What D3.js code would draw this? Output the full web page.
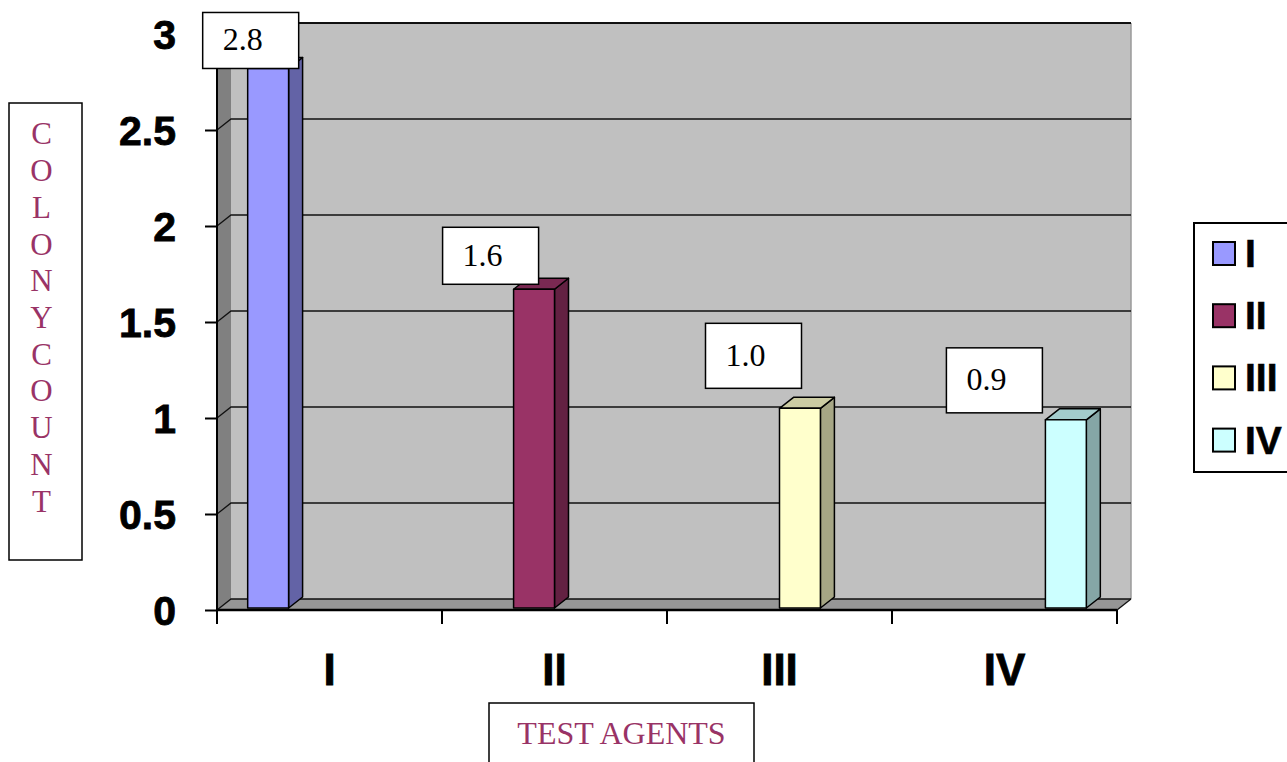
<!DOCTYPE html>
<html>
<head>
<meta charset="utf-8">
<script src="https://cdn.jsdelivr.net/npm/d3@7"></script>
<style>
  html, body { margin: 0; padding: 0; background: #fff; }
  svg { display: block; }
</style>
</head>
<body>
<svg id="chart" width="1287" height="762"></svg>
<script>
// ---- data ----
const categories = ["I", "II", "III", "IV"];
const seriesNames = ["I", "II", "III", "IV"];
const values = [2.81, 1.66, 1.04, 0.98];
const valueLabels = ["2.8", "1.6", "1.0", "0.9"];
const yTicks = [0, 0.5, 1, 1.5, 2, 2.5, 3];
const yTickLabels = ["0", "0.5", "1", "1.5", "2", "2.5", "3"];
const seriesColors = ["#9999ff", "#993366", "#ffffcc", "#ccffff"];
const yTitle = "COLONYCOUNT";
const xTitle = "TEST AGENTS";

// ---- layout ----
const svg = d3.select("#chart");
const DX = 14, DY = -11;           // 3D depth offset
const x = d3.scaleBand().domain(categories).range([217, 1117]);
const xs = d3.scaleBand().domain(seriesNames).range([0, x.bandwidth()])
  .paddingInner(0).paddingOuter(0.75);
const y = d3.scaleLinear().domain([0, 3]).range([610, 34]);
const x0 = x.range()[0], x1 = x.range()[1];
const yMin = y(0), yMax = y(3);

function shade(c, k) {
  const r = d3.rgb(c);
  return d3.rgb(r.r * k, r.g * k, r.b * k).formatHex();
}
const pts = a => a.map(p => p.join(",")).join(" ");
const boldFont = "'Liberation Sans', Arial, sans-serif";
const serifFont = "'Liberation Serif', 'Times New Roman', serif";

// back wall
svg.append("polygon")
  .attr("points", pts([[x0 + DX, yMax + DY], [x1 + DX, yMax + DY], [x1 + DX, yMin + DY], [x0 + DX, yMin + DY]]))
  .attr("fill", "#c0c0c0").attr("stroke", "none");
// right edge of back wall
svg.append("line").attr("x1", x1 + DX).attr("x2", x1 + DX).attr("y1", yMax + DY).attr("y2", yMin + DY)
  .attr("stroke", "#9a9a9a").attr("stroke-width", 1.5);
// left wall
svg.append("polygon")
  .attr("points", pts([[x0, yMax], [x0 + DX, yMax + DY], [x0 + DX, yMin + DY], [x0, yMin]]))
  .attr("fill", "#808080");
// floor
svg.append("polygon")
  .attr("points", pts([[x0, yMin], [x0 + DX, yMin + DY], [x1 + DX, yMin + DY], [x1, yMin]]))
  .attr("fill", "#969696");

// gridlines (left wall diagonal + back wall horizontal)
const grid = svg.append("g").attr("stroke", "#111").attr("stroke-width", 1.3).attr("fill", "none");
yTicks.forEach(v => {
  grid.append("polyline")
    .attr("points", pts([[x0, y(v)], [x0 + DX, y(v) + DY], [x1 + DX, y(v) + DY]]));
});
// floor right edge
grid.append("line").attr("x1", x1).attr("y1", yMin).attr("x2", x1 + DX).attr("y2", yMin + DY);

// bars
const bars = svg.append("g").attr("stroke", "#000").attr("stroke-width", 1.5).attr("stroke-linejoin", "round");
const barData = seriesNames.map((s, i) => ({ s, cat: categories[i], v: values[i], c: seriesColors[i], label: valueLabels[i] }));
const FY = -2; // bar front slightly behind the floor front edge
barData.forEach(d => {
  const bx = x(d.cat) + xs(d.s), bw = xs.bandwidth();
  const yt = y(d.v) + FY, yb = y(0) + FY;
  d.bx = bx; d.yt = yt;
  bars.append("polygon")
    .attr("points", pts([[bx + bw, yt], [bx + bw + DX, yt + DY], [bx + bw + DX, yb + DY], [bx + bw, yb]]))
    .attr("fill", shade(d.c, 0.65));
  bars.append("polygon")
    .attr("points", pts([[bx, yt], [bx + DX, yt + DY], [bx + bw + DX, yt + DY], [bx + bw, yt]]))
    .attr("fill", shade(d.c, 0.8));
  bars.append("rect").attr("x", bx).attr("y", yt).attr("width", bw).attr("height", yb - yt)
    .attr("fill", d.c);
});

// y axis
const yAxis = svg.append("g").attr("transform", `translate(${x0},0)`)
  .call(d3.axisLeft(y).tickValues(yTicks).tickSize(12).tickPadding(29)
    .tickFormat((d, i) => yTickLabels[i]));
yAxis.select(".domain").attr("stroke", "#000").attr("stroke-width", 2).attr("d", `M0,${yMax}V${yMin}`);
yAxis.selectAll(".tick line").attr("stroke", "#000").attr("stroke-width", 2);
yAxis.selectAll(".tick text")
  .attr("font-family", boldFont).attr("font-weight", "bold").attr("font-size", 41)
  .attr("fill", "#000").attr("stroke", "#000").attr("stroke-width", 0.8).attr("dy", "0.36em");

// x axis (labels at centers, ticks at band boundaries)
const xAxis = svg.append("g").attr("transform", `translate(0,${yMin})`)
  .call(d3.axisBottom(x).tickSize(0).tickPadding(44));
xAxis.select(".domain").remove();
xAxis.selectAll(".tick text")
  .attr("font-family", boldFont).attr("font-weight", "bold").attr("font-size", 44)
  .attr("fill", "#000").attr("stroke", "#000").attr("stroke-width", 0.8);
svg.append("line").attr("x1", x0).attr("x2", x1).attr("y1", yMin).attr("y2", yMin)
  .attr("stroke", "#000").attr("stroke-width", 2.5);
const bounds = categories.map(c => x(c)).concat([x1]);
svg.append("g").selectAll("line").data(bounds).join("line")
  .attr("x1", d => d).attr("x2", d => d).attr("y1", yMin).attr("y2", yMin + 14)
  .attr("stroke", "#000").attr("stroke-width", 2);

// top edges of the walls
svg.append("polyline")
  .attr("points", pts([[x0, yMax], [x0 + DX, yMax + DY], [x1 + DX, yMax + DY]]))
  .attr("fill", "none").attr("stroke", "#000").attr("stroke-width", 1.5);

// value label boxes (hand-placed offsets from each bar's top-left corner)
const labelOffsets = [[-45, -56, 56], [-71, -62, 57], [-74, -85, 65], [-99, -72, 65]];
const lab = svg.append("g");
barData.forEach((d, i) => {
  const [ox, oy, h] = labelOffsets[i];
  const lx = d.bx + ox, ly = d.yt + oy;
  lab.append("rect").attr("x", lx).attr("y", ly).attr("width", 96).attr("height", h)
    .attr("fill", "#fff").attr("stroke", "#000").attr("stroke-width", 1.5);
  lab.append("text").attr("x", lx + 20).attr("y", ly + h / 2 + 10)
    .attr("font-family", serifFont).attr("font-size", 32).attr("fill", "#000").text(d.label);
});

// legend
const leg = svg.append("g");
leg.append("rect").attr("x", 1194).attr("y", 223).attr("width", 110).attr("height", 249)
  .attr("fill", "#fff").attr("stroke", "#000").attr("stroke-width", 2);
seriesNames.forEach((s, i) => {
  const cy = 253.5 + i * 62.2;
  leg.append("rect").attr("x", 1213).attr("y", cy - 11.5).attr("width", 22).attr("height", 23)
    .attr("fill", seriesColors[i]).attr("stroke", "#000").attr("stroke-width", 2);
  leg.append("text").attr("x", 1245).attr("y", cy + 13.5)
    .attr("font-family", boldFont).attr("font-weight", "bold").attr("font-size", 39)
    .attr("fill", "#000").attr("stroke", "#000").attr("stroke-width", 0.6).text(s);
});

// y title box (stacked letters)
svg.append("rect").attr("x", 9).attr("y", 103).attr("width", 73).attr("height", 457)
  .attr("fill", "#fff").attr("stroke", "#000").attr("stroke-width", 1.5);
svg.append("g").selectAll("text").data(yTitle.split("")).join("text")
  .attr("x", 41.5).attr("y", (d, i) => 144.3 + i * 36.74)
  .attr("text-anchor", "middle")
  .attr("font-family", serifFont).attr("font-size", 31).attr("fill", "#993366").text(d => d);

// x title box
svg.append("rect").attr("x", 489).attr("y", 703).attr("width", 265).attr("height", 70)
  .attr("fill", "#fff").attr("stroke", "#000").attr("stroke-width", 1.5);
svg.append("text").attr("x", 621.5).attr("y", 744).attr("text-anchor", "middle")
  .attr("font-family", serifFont).attr("font-size", 32).attr("fill", "#993366").text(xTitle);
</script>
</body>
</html>
